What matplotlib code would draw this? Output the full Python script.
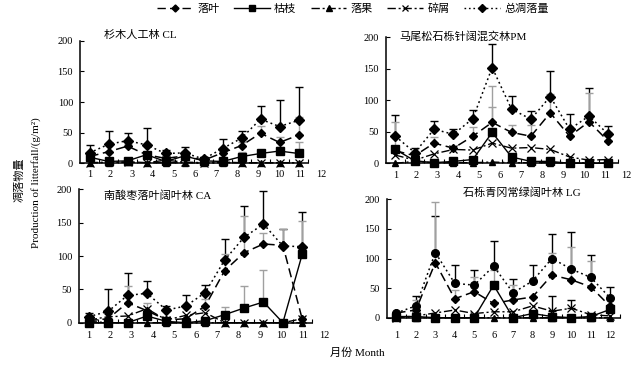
import numpy as np
import matplotlib
matplotlib.use('Agg')
import matplotlib.pyplot as plt
from matplotlib.transforms import blended_transform_factory
from matplotlib.lines import Line2D

plt.rcParams['font.family'] = ['Liberation Serif', 'Noto Sans CJK SC']
plt.rcParams['axes.unicode_minus'] = False

months = list(range(1, 13))
month_labels = [str(m) for m in months]
series_names = ['落叶', '枯枝', '落果', '碎屑', '总凋落量']
nan = np.nan

# ---- CL ----
cl_title = '杉木人工林 CL'
cl_leaf = [11, 19, 28, 14, 8, 12, 5, 17, 29, 49, 34, 46]
cl_branch = [10, 3, 4, 14, 3, 12, 4, 3, 11, 16, 20, 16]
cl_fruit = [1, 1, 2, 1, 1, 1, 0, 1, 1, 1, 1, 1]
cl_debris = [1, 2, 2, 1, 5, 2, 1, 2, 1, 1, 1, 1]
cl_total = [17, 31, 37, 30, 16, 17, 7, 24, 41, 72, 60, 70]
cl_total_top = [30, 52, 50, 57, 22, 27, 11, 39, 53, 94, 103, 124]
cl_leaf_top = [nan, nan, 32, nan, nan, nan, nan, 20, 35, 61, 43, 75]
cl_branch_top = [nan, nan, nan, nan, nan, nan, nan, nan, 18, 22, 26, 34]
cl_debris_top = [nan] * 12

# ---- PM ----
pm_title = '马尾松石栎针阔混交林PM'
pm_leaf = [20, 12, 32, 24, 43, 65, 49, 43, 80, 43, 66, 35]
pm_branch = [22, 4, 1, 3, 6, 49, 10, 3, 3, 0, 0, 0]
pm_fruit = [0, 3, 1, 1, 1, 2, 1, 1, 1, 0, 1, 0]
pm_debris = [13, 5, 15, 22, 21, 32, 24, 25, 22, 10, 5, 6]
pm_total = [43, 17, 54, 46, 71, 152, 86, 70, 106, 54, 75, 46]
pm_total_top = [76, 25, 67, 54, 84, 190, 107, 83, 147, 78, 119, 60]
pm_leaf_top = [66, nan, 41, nan, 58, 123, 61, 61, 110, nan, 111, 50]
pm_branch_top = [nan, nan, nan, nan, nan, 89, nan, nan, nan, nan, nan, nan]
pm_debris_top = [nan] * 12

# ---- CA ----
ca_title = '南酸枣落叶阔叶林 CA'
ca_leaf = [3, 6, 30, 18, 4, 6, 25, 78, 105, 118, 116, 5]
ca_branch = [0, 0, 0, 10, 2, 0, 3, 12, 22, 31, 0, 103]
ca_fruit = [2, 0, 0, 0, 0, 0, 0, 0, 0, 0, 0, 0]
ca_debris = [4, 9, 10, 21, 4, 11, 15, 0, 0, 0, 0, 6]
ca_total = [9, 17, 41, 44, 19, 25, 45, 94, 128, 148, 115, 114]
ca_total_top = [15, 50, 75, 63, 25, 42, 57, 125, 175, 198, 141, 166]
ca_leaf_top = [nan, nan, 55, 30, nan, nan, 35, 103, 160, 134, 140, nan]
ca_branch_top = [nan, nan, nan, nan, nan, nan, nan, 24, 55, 79, nan, 152]
ca_debris_top = [nan] * 12

# ---- LG ----
lg_title = '石栎青冈常绿阔叶林 LG'
lg_leaf = [8, 13, 93, 32, 44, 24, 30, 35, 72, 64, 52, 19]
lg_branch = [2, 2, 0, 0, 0, 55, 0, 7, 2, 0, 2, 14]
lg_fruit = [2, 0, 0, 0, 0, 0, 0, 0, 0, 0, 0, 0]
lg_debris = [0, 3, 8, 13, 7, 10, 10, 20, 11, 16, 5, 3]
lg_total = [8, 20, 110, 58, 55, 87, 42, 62, 100, 82, 68, 33]
lg_total_top = [nan, 36, 172, 89, 81, 130, 65, 89, 141, 145, 106, 52]
lg_leaf_top = [nan, 30, 196, 46, 68, nan, 55, nan, 109, 120, 95, 21]
lg_branch_top = [nan, nan, nan, nan, nan, 80, nan, nan, nan, nan, nan, nan]
lg_debris_top = [nan, nan, nan, nan, nan, nan, nan, nan, 36, 30, nan, nan]

W, H = 639, 365
fig = plt.figure(figsize=(W / 100, H / 100), dpi=100)


def fx(px):
    return px / W


def fy(py):
    return 1 - py / H


GRAY = '#a0a0a0'
styles = {
    'leaf': dict(ls=(0, (6, 3)), marker='D', ms=4.2),
    'branch': dict(ls='-', marker='s', ms=5.5),
    'fruit': dict(ls=(0, (6, 2, 1.5, 2)), marker='^', ms=4.5),
    'debris': dict(ls=(0, (6, 2, 1.5, 2)), marker='x', ms=5.5, mew=0.9),
    'total': dict(ls=(0, (1.2, 2)), marker='D', ms=4.6),
}

# layout: left, right, top(y=200), bottom(y=0), label spacing ratio, label y(px), title x, title y, total marker
panels = [
    (cl_title, cl_leaf, cl_branch, cl_fruit, cl_debris, cl_total, cl_total_top, cl_leaf_top, cl_branch_top, cl_debris_top,
     (80, 308, 40.7, 163.3, 1.11, 174, 140, 35, 'D')),
    (pm_title, pm_leaf, pm_branch, pm_fruit, pm_debris, pm_total, pm_total_top, pm_leaf_top, pm_branch_top, pm_debris_top,
     (385.7, 618, 37.3, 163.3, 1.083, 175.5, 463, 36, 'D')),
    (ca_title, ca_leaf, ca_branch, ca_fruit, ca_debris, ca_total, ca_total_top, ca_leaf_top, ca_branch_top, ca_debris_top,
     (79, 312, 189.3, 322.7, 1.103, 336, 158, 195, 'D')),
    (lg_title, lg_leaf, lg_branch, lg_fruit, lg_debris, lg_total, lg_total_top, lg_leaf_top, lg_branch_top, lg_debris_top,
     (386.7, 620, 199.3, 317.7, 1.0, 335, 522, 193, 'o')),
]

x = np.array(months, dtype=float)


def draw_err(ax, vals, tops, color):
    v = np.array(vals, dtype=float)
    t = np.array(tops, dtype=float)
    idx = ~np.isnan(t)
    if idx.sum() == 0:
        return
    up = t[idx] - v[idx]
    ax.errorbar(x[idx], v[idx], yerr=[np.zeros_like(up), up], fmt='none',
                ecolor=color, elinewidth=1.0, capsize=3, capthick=1.0, zorder=2)


for (title, leaf, branch, fruit, debris, total, total_top, leaf_top, branch_top, debris_top, lay) in panels:
    left, right, top, bottom, ratio, label_y, tx, ty, tmark = lay
    ax = fig.add_axes([fx(left), fy(bottom), fx(right) - fx(left), (bottom - top) / H])
    ax.set_xlim(0.5, 12.5)
    ax.set_ylim(0, 200)
    for s in ['top', 'right']:
        ax.spines[s].set_visible(False)
    for s in ['left', 'bottom']:
        ax.spines[s].set_linewidth(1.1)
    ax.set_yticks([0, 50, 100, 150, 200])
    ax.tick_params(axis='y', direction='in', length=3, labelsize=7.5, pad=5)
    ax.set_xticks(np.arange(1.5, 13, 1))
    ax.tick_params(axis='x', direction='in', length=3, labelbottom=False)
    ax.patch.set_alpha(0)

    draw_err(ax, total, total_top, 'black')
    draw_err(ax, leaf, leaf_top, GRAY)
    draw_err(ax, branch, branch_top, GRAY)
    draw_err(ax, debris, debris_top, 'black')

    ax.plot(x, fruit, color='black', lw=1.0, clip_on=False, zorder=3, **styles['fruit'])
    ax.plot(x, debris, color='black', lw=1.0, clip_on=False, zorder=3, **styles['debris'])
    ax.plot(x, branch, color='black', lw=1.0, clip_on=False, zorder=3, **styles['branch'])
    ax.plot(x, leaf, color='black', lw=1.1, clip_on=False, zorder=4, **styles['leaf'])
    tstyle = dict(styles['total'])
    tstyle['marker'] = tmark
    if tmark == 'o':
        tstyle['ms'] = 5.5
    ax.plot(x, total, color='black', lw=1.1, clip_on=False, zorder=5, **tstyle)

    trans = blended_transform_factory(ax.transData, fig.transFigure)
    for k, lab in enumerate(month_labels):
        ax.text(1 + k * ratio, fy(label_y), lab, transform=trans, ha='center', va='center',
                fontsize=7.5, clip_on=False)

    fig.text(fx(tx), fy(ty), title, ha='center', va='center', fontsize=8)

# legend
handles = []
for key in ['leaf', 'branch', 'fruit', 'debris', 'total']:
    st = dict(styles[key])
    st['ms'] = st['ms'] * 0.85
    handles.append(Line2D([], [], color='black', lw=1.0, **st))
fig.legend(handles, series_names, loc='center', bbox_to_anchor=(fx(353), fy(9)), ncol=5,
           frameon=False, fontsize=8, handlelength=3.2, columnspacing=1.3, handletextpad=0.4,
           borderpad=0.1)

fig.text(fx(20), fy(180), '凋落物量', rotation=90, ha='center', va='center', fontsize=8)
fig.text(fx(36), fy(183), 'Production of litterfall/(g/m²)', rotation=90, ha='center', va='center', fontsize=8)
fig.text(fx(357), fy(353), '月份 Month', ha='center', va='center', fontsize=8)

fig.savefig('out.png', dpi=100)
